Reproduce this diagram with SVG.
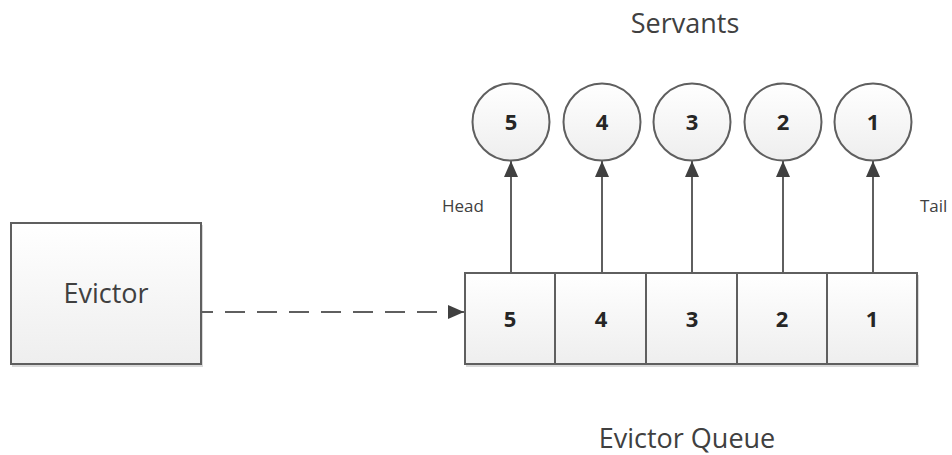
<svg xmlns="http://www.w3.org/2000/svg" width="952" height="455" viewBox="0 0 952 455">
<defs>
<linearGradient id="g" x1="0" y1="0" x2="0" y2="1">
<stop offset="0" stop-color="#ffffff"/>
<stop offset="1" stop-color="#eeeeee"/>
</linearGradient>
<marker id="ah" viewBox="0 0 16 14" refX="16" refY="7" markerWidth="16" markerHeight="14" markerUnits="userSpaceOnUse" orient="auto">
<path d="M0,0 L16,7 L0,14 Z" fill="#404040"/>
</marker>
<style>
.shape{fill:url(#g);stroke:#5f5f5f;stroke-width:2}
.shadow{fill:#d9d9d9}
.lbl{font-family:"Open Sans","Liberation Sans",sans-serif;fill:#404040}
.big{font-size:27px}
.small{font-size:17px}
.num{font-family:"Open Sans","Liberation Sans",sans-serif;font-size:22px;font-weight:bold;fill:#262626;text-anchor:middle}
.conn{stroke:#5f5f5f;stroke-width:2;fill:none}
</style>
</defs>
<rect width="952" height="455" fill="#ffffff"/>
<text class="lbl big" x="685" y="33" text-anchor="middle">Servants</text>
<text class="lbl big" x="687" y="448" text-anchor="middle">Evictor Queue</text>
<text class="lbl small" x="442" y="212">Head</text>
<text class="lbl small" x="920" y="212">Tail</text>
<g id="evictor">
<rect class="shadow" x="12" y="225" width="191" height="142"/>
<rect class="shape" x="11" y="223" width="190" height="141"/>
<text class="lbl big" x="106" y="303" text-anchor="middle">Evictor</text>
</g>
<g id="queue">
<rect class="shadow" x="466" y="275" width="453" height="92"/>
<rect class="shape" x="465" y="273" width="452" height="91"/>
<line class="conn" x1="555" y1="273" x2="555" y2="364"/>
<line class="conn" x1="646" y1="273" x2="646" y2="364"/>
<line class="conn" x1="737" y1="273" x2="737" y2="364"/>
<line class="conn" x1="827" y1="273" x2="827" y2="364"/>
<text class="num" x="510" y="327">5</text>
<text class="num" x="601" y="327">4</text>
<text class="num" x="692" y="327">3</text>
<text class="num" x="782" y="327">2</text>
<text class="num" x="872" y="327">1</text>
</g>
<g id="servant5"><circle class="shape" cx="511" cy="122" r="38.5"/><text class="num" x="511" y="130">5</text></g>
<g id="servant4"><circle class="shape" cx="602" cy="122" r="38.5"/><text class="num" x="602" y="130">4</text></g>
<g id="servant3"><circle class="shape" cx="692" cy="122" r="38.5"/><text class="num" x="692" y="130">3</text></g>
<g id="servant2"><circle class="shape" cx="783" cy="122" r="38.5"/><text class="num" x="783" y="130">2</text></g>
<g id="servant1"><circle class="shape" cx="873" cy="122" r="38.5"/><text class="num" x="873" y="130">1</text></g>
<g id="connectors">
<line class="conn" x1="201" y1="312" x2="464" y2="312" stroke-dasharray="20 12" stroke-dashoffset="8" marker-end="url(#ah)"/>
<line class="conn" x1="511" y1="273" x2="511" y2="161" marker-end="url(#ah)"/>
<line class="conn" x1="602" y1="273" x2="602" y2="161" marker-end="url(#ah)"/>
<line class="conn" x1="692" y1="273" x2="692" y2="161" marker-end="url(#ah)"/>
<line class="conn" x1="783" y1="273" x2="783" y2="161" marker-end="url(#ah)"/>
<line class="conn" x1="873" y1="273" x2="873" y2="161" marker-end="url(#ah)"/>
</g>
</svg>
